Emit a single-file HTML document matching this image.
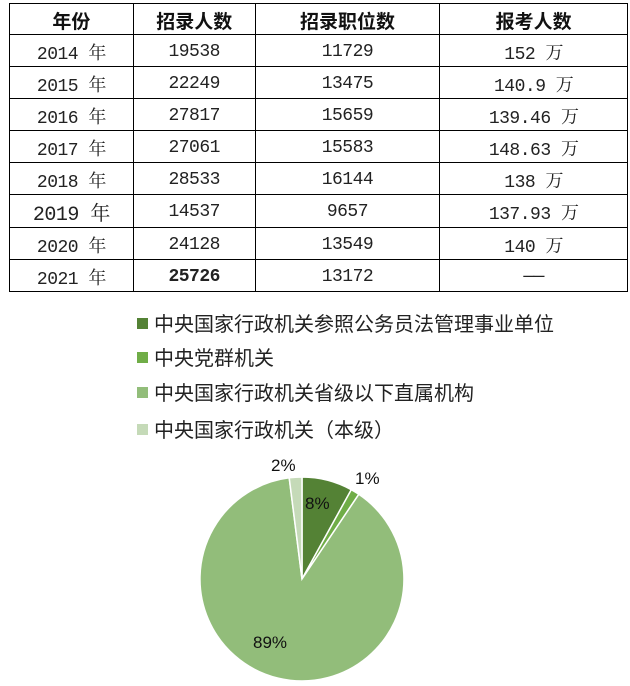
<!DOCTYPE html>
<html><head><meta charset="utf-8"><style>
body{margin:0;width:630px;height:686px;background:#fff;position:relative;overflow:hidden;font-family:"Liberation Mono","Noto Serif CJK SC",serif;}
table{position:absolute;left:9px;top:3px;border-collapse:collapse;width:619px;}
td,th{border:1.5px solid #000;text-align:center;padding:2px 0 0 0;height:29px;font-size:18px;color:#222;letter-spacing:-0.5px}
th{font-family:"Liberation Sans","Noto Sans CJK SC",sans-serif;font-weight:bold;font-size:19px;height:28px;letter-spacing:0;color:#111}
.lg{position:absolute;left:137px;font-family:"Liberation Sans","Noto Sans CJK SC",sans-serif;font-size:20px;color:#222;}
.lg i{display:inline-block;width:11px;height:11px;margin-right:6px;vertical-align:middle;position:relative;top:-2px}
</style></head><body>
<table>
<colgroup><col style="width:124px"><col style="width:122px"><col style="width:185px"><col style="width:188px"></colgroup>
<tr><th>年份</th><th>招录人数</th><th>招录职位数</th><th>报考人数</th></tr>
<tr><td>2014 年</td><td>19538</td><td>11729</td><td>152 万</td></tr>
<tr><td>2015 年</td><td>22249</td><td>13475</td><td>140.9 万</td></tr>
<tr><td>2016 年</td><td>27817</td><td>15659</td><td>139.46 万</td></tr>
<tr><td>2017 年</td><td>27061</td><td>15583</td><td>148.63 万</td></tr>
<tr><td>2018 年</td><td>28533</td><td>16144</td><td>138 万</td></tr>
<tr><td style="font-size:20px">2019 年</td><td>14537</td><td>9657</td><td>137.93 万</td></tr>
<tr><td>2020 年</td><td>24128</td><td>13549</td><td>140 万</td></tr>
<tr><td>2021 年</td><td><b>25726</b></td><td>13172</td><td>——</td></tr>
</table>
<div class="lg" style="top:308px"><i style="background:#548235"></i>中央国家行政机关参照公务员法管理事业单位</div>
<div class="lg" style="top:342px"><i style="background:#70ad47"></i>中央党群机关</div>
<div class="lg" style="top:377px"><i style="background:#92bd7a"></i>中央国家行政机关省级以下直属机构</div>
<div class="lg" style="top:414px"><i style="background:#c5dab8"></i>中央国家行政机关（本级）</div>
<svg width="630" height="686" style="position:absolute;left:0;top:0">
<g transform="translate(302,579)" stroke="#fff" stroke-width="1.5">
<path d="M0,0 L0,-102 A102,102 0 0 1 49.3,-89.3 Z" fill="#548235"/>
<path d="M0,0 L49.3,-89.3 A102,102 0 0 1 56.8,-84.7 Z" fill="#70ad47"/>
<path d="M0,0 L56.8,-84.7 A102,102 0 1 1 -12.8,-101.2 Z" fill="#92bd7a"/>
<path d="M0,0 L-12.8,-101.2 A102,102 0 0 1 0,-102 Z" fill="#c5dab8"/>
</g>
<g font-family="Liberation Sans,sans-serif" font-size="17" fill="#111">
<text x="305" y="509">8%</text>
<text x="355" y="484">1%</text>
<text x="271" y="471">2%</text>
<text x="253" y="648">89%</text>
</g>
</svg>
</body></html>
